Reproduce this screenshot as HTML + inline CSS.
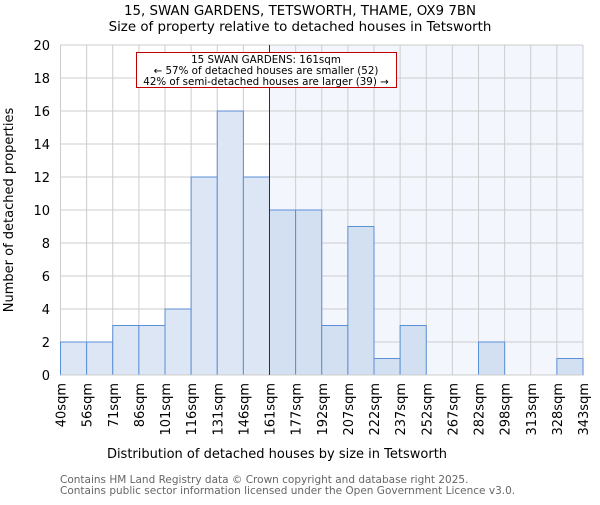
<!DOCTYPE html>
<html><head><meta charset="utf-8"><style>
body{margin:0;background:#fff}
svg text{font-family:"DejaVu Sans","Liberation Sans",sans-serif}
</style></head><body>
<svg id="c" width="600" height="500">
<text x="300" y="15" text-anchor="middle" font-size="13.4">15, SWAN GARDENS, TETSWORTH, THAME, OX9 7BN</text>
<text x="300" y="31" text-anchor="middle" font-size="13.4">Size of property relative to detached houses in Tetsworth</text>
<g id="plot"></g>
<text x="277" y="458" text-anchor="middle" font-size="13">Distribution of detached houses by size in Tetsworth</text>
<text transform="translate(13,210) rotate(-90)" text-anchor="middle" font-size="13">Number of detached properties</text>
<text x="60" y="483" font-size="10.5" fill="#666">Contains HM Land Registry data © Crown copyright and database right 2025.</text>
<text x="60" y="494" font-size="10.5" fill="#666">Contains public sector information licensed under the Open Government Licence v3.0.</text>
</svg>
<script>
const categories=["40sqm","56sqm","71sqm","86sqm","101sqm","116sqm","131sqm","146sqm","161sqm","177sqm","192sqm","207sqm","222sqm","237sqm","252sqm","267sqm","282sqm","298sqm","313sqm","328sqm","343sqm"];
const counts=[2,2,3,3,4,12,16,12,10,10,3,9,1,3,0,0,2,0,0,1];
const yTicks=[0,2,4,6,8,10,12,14,16,18,20];
const markerIndex=8;
const NS="http://www.w3.org/2000/svg";
const g=document.getElementById('plot');
const x0=60.5,x1=583,yTop=45,yBot=375,nb=counts.length,bw=(x1-x0)/nb;
const X=i=>x0+i*bw, Y=v=>yBot-(v/20)*(yBot-yTop);
function mk(t,a){const e=document.createElementNS(NS,t);for(const k in a)e.setAttribute(k,a[k]);g.appendChild(e);return e;}
let bg=mk('rect',{x:X(markerIndex),y:yTop,width:x1-X(markerIndex),height:yBot-yTop,fill:'#f3f6fd'});


yTicks.forEach(v=>{let l=mk('line',{x1:x0,x2:x1,y1:Y(v),y2:Y(v),stroke:'#ccc'});


let t=mk('text',{x:50,y:Y(v)+5,'text-anchor':'end','font-size':13});t.textContent=v;

});
for(let i=0;i<=nb;i++){let l=mk('line',{x1:X(i),x2:X(i),y1:yTop,y2:yBot,stroke:'#ccc'});

}
counts.forEach((v,i)=>{if(v<=0)return;let r=mk('rect',{x:X(i),y:Y(v),width:bw,height:yBot-Y(v),fill:i<markerIndex?'#dce6f4':'#d3e0f2',stroke:'#5b8fd6','stroke-width':1});

});
categories.forEach((c,i)=>{let t=mk('text',{transform:`translate(${X(i)+5},383) rotate(-90)`,'text-anchor':'end','font-size':13});t.textContent=c;

});
let ax=mk('line',{x1:x0,x2:x1,y1:yBot,y2:yBot,stroke:'#ccc'});
let ml=mk('line',{x1:X(markerIndex),x2:X(markerIndex),y1:yTop,y2:yBot,stroke:'#a00000','stroke-width':1});


let box=mk('rect',{x:136.5,y:52.5,width:260,height:35,fill:'#fff',stroke:'#c00000'});


["15 SWAN GARDENS: 161sqm","← 57% of detached houses are smaller (52)","42% of semi-detached houses are larger (39) →"].forEach((s,k)=>{let t=mk('text',{x:266,y:63+k*11,'text-anchor':'middle','font-size':10.3});t.textContent=s;

});
</script>
</body></html>
